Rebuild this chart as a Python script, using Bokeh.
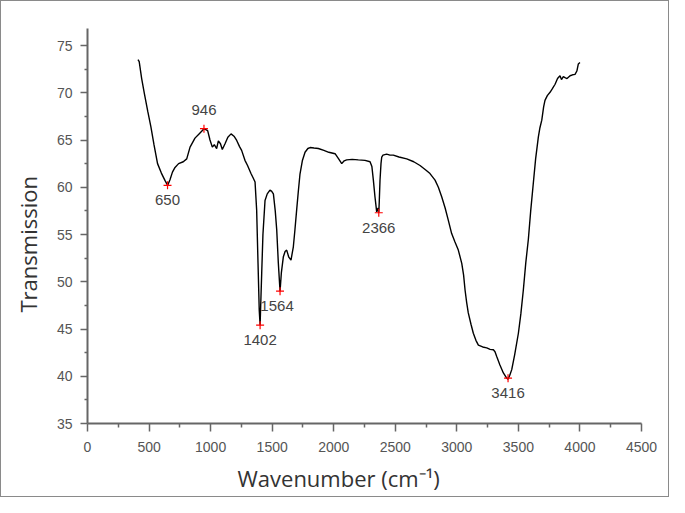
from bokeh.plotting import figure
from bokeh.models import Range1d, FixedTicker, ColumnDataSource, Title
from bokeh.core.properties import value
from bokeh.embed import file_html
from bokeh.resources import INLINE

# FTIR spectrum
wavenumber = [410, 420, 440, 462, 490, 515, 540, 569, 600, 630, 651, 670, 690, 711, 740, 778, 806, 833, 873, 910,
              941, 946, 976, 995, 1014, 1030, 1049, 1063, 1080, 1095, 1117, 1140, 1166, 1190, 1212, 1235, 1252, 1279,
              1300, 1328, 1345, 1361, 1374, 1385, 1395, 1402, 1408, 1415, 1425, 1442, 1460, 1482, 1495, 1510, 1525,
              1537, 1550, 1564, 1575, 1591, 1605, 1618, 1635, 1653, 1672, 1685, 1699, 1712, 1726, 1745, 1767, 1790,
              1808, 1840, 1875, 1920, 1960, 2011, 2040, 2065, 2085, 2105, 2150, 2200, 2254, 2295, 2310, 2322, 2335,
              2349, 2360, 2366, 2370, 2376, 2384, 2390, 2400, 2430, 2457, 2484, 2530, 2593, 2650, 2701, 2750, 2782,
              2823, 2850, 2877, 2905, 2931, 2958, 2985, 3012, 3040, 3055, 3067, 3080, 3093, 3115, 3134, 3155, 3175,
              3210, 3243, 3270, 3297, 3310, 3324, 3350, 3378, 3405, 3416, 3430, 3446, 3470, 3500, 3520, 3540, 3560,
              3581, 3600, 3621, 3640, 3662, 3675, 3690, 3705, 3716, 3735, 3757, 3775, 3798, 3818, 3838, 3850, 3865,
              3879, 3895, 3920, 3940, 3960, 3975, 3987, 4000]
transmission = [73.5, 73.3, 71.5, 69.9, 68.0, 66.4, 64.5, 62.5, 61.5, 60.7, 60.2, 60.8, 61.6, 62.1, 62.5, 62.7, 63.0,
                64.25, 65.2, 65.7, 66.1, 66.2, 66.0, 65.0, 64.25, 64.5, 64.1, 64.9, 64.6, 64.0, 64.6, 65.3, 65.65,
                65.4, 64.95, 64.3, 63.9, 62.85, 62.3, 61.45, 61.0, 60.55, 57.6, 52.0, 47.0, 45.4, 48.0, 50.9, 55.0,
                58.6, 59.3, 59.7, 59.6, 59.3, 57.5, 55.5, 52.0, 49.0, 51.0, 52.65, 53.2, 53.35, 52.6, 52.3, 53.7,
                55.5, 57.6, 59.5, 61.4, 62.8, 63.7, 64.1, 64.2, 64.15, 64.1, 63.9, 63.7, 63.55, 63.0, 62.5, 62.8,
                62.9, 62.95, 62.9, 62.85, 62.7, 62.2, 60.75, 59.0, 57.4, 57.8, 57.3, 58.5, 60.75, 62.5, 63.2, 63.4,
                63.5, 63.4, 63.4, 63.2, 63.0, 62.7, 62.3, 61.8, 61.45, 60.75, 60.0, 59.0, 57.8, 56.5, 55.1, 54.2,
                53.35, 51.95, 50.7, 49.1, 47.8, 46.7, 45.5, 44.55, 43.8, 43.3, 43.1, 43.0, 42.85, 42.8, 42.6, 42.1,
                41.2, 40.35, 39.8, 39.7, 40.1, 40.7, 42.3, 44.55, 46.6, 49.1, 52.0, 54.5, 57.5, 60.4, 63.0, 65.3,
                66.3, 67.1, 68.5, 69.2, 69.7, 70.05, 70.4, 70.9, 71.5, 71.8, 71.4, 71.7, 71.6, 71.5, 71.8, 71.9,
                71.95, 72.3, 73.05, 73.2]

peak_x = [650, 946, 1402, 1564, 2366, 3416]
peak_y = [60.2, 66.2, 45.4, 49.0, 57.3, 39.8]
peak_labels = ["650", "946", "1402", "1564", "2366", "3416"]
label_dx = [0, 0, 0, -3, 0, 0]
label_dy = [15, -19, 15, 15, 15, 15]

x_ticks = [0, 500, 1000, 1500, 2000, 2500, 3000, 3500, 4000, 4500]
y_ticks = [35, 40, 45, 50, 55, 60, 65, 70, 75]
x_title = "Wavenumber (cm⁻¹)"
y_title = "Transmission"

p = figure(width=669, height=497, output_backend="svg", toolbar_location=None,
           x_range=Range1d(0, 4500), y_range=Range1d(35, 76.8),
           min_border_left=86, min_border_right=29, min_border_top=27, min_border_bottom=74)
p.styles = {"border": "1px solid #8a8a8a"}
p.outline_line_color = None
p.xgrid.grid_line_color = None
p.ygrid.grid_line_color = None
p.background_fill_color = "white"
p.border_fill_color = "white"

p.line(wavenumber, transmission, line_color="black", line_width=1.4)

src = ColumnDataSource(dict(x=peak_x, y=peak_y, t=peak_labels, dx=label_dx, dy=label_dy))
p.scatter("x", "y", source=src, marker="cross", size=8, line_color="red", line_width=1.2)
p.text("x", "y", text="t", source=src, x_offset="dx", y_offset="dy",
       text_align="center", text_baseline="middle", text_font=value("Liberation Sans"),
       text_font_size="15px", text_color="#444444")

for ax in (p.xaxis[0], p.yaxis[0]):
    ax.axis_line_color = "#666666"
    ax.axis_line_width = 2
    ax.major_tick_line_color = "#666666"
    ax.minor_tick_line_color = "#666666"
    ax.major_tick_line_width = 1.5
    ax.minor_tick_line_width = 1.5
    ax.major_tick_in = 0
    ax.minor_tick_in = 0
    ax.major_label_text_font = "Liberation Sans"
    ax.major_label_text_font_size = "14px"
    ax.major_label_text_color = "#555555"

p.xaxis.ticker = FixedTicker(ticks=x_ticks, minor_ticks=list(range(250, 4500, 500)))
p.yaxis.ticker = FixedTicker(ticks=y_ticks, minor_ticks=[37.5, 42.5, 47.5, 52.5, 57.5, 62.5, 67.5, 72.5])
p.xaxis.major_tick_out = 8
p.xaxis.minor_tick_out = 4
p.yaxis.major_tick_out = 7
p.yaxis.minor_tick_out = 3
p.xaxis.major_label_standoff = 10
p.yaxis.major_label_standoff = 8

# axis titles as side titles so that they can sit where the reference puts them
p.add_layout(Title(text=x_title, align="left", offset=150, standoff=12, vertical_align="bottom",
                   text_font="Open Sans", text_font_size="22px", text_font_style="normal",
                   text_color="#333333"), "below")
p.add_layout(Title(text=y_title, align="left", offset=111, standoff=18, vertical_align="top",
                   text_font="Open Sans", text_font_size="22px", text_font_style="normal",
                   text_color="#333333"), "left")

open("out.html", "w").write(file_html(p, INLINE))
